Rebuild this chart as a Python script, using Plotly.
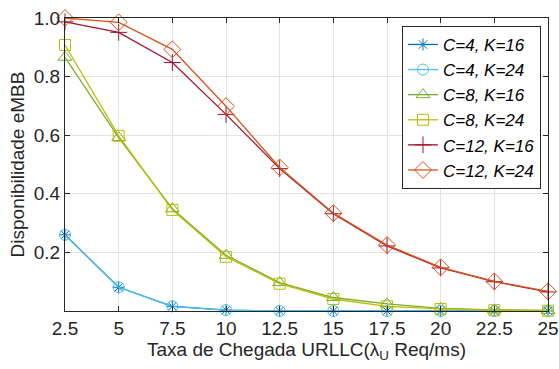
import plotly.graph_objects as go

x_vals = [2.5, 5, 7.5, 10, 12.5, 15, 17.5, 20, 22.5, 25]
x_ticklabels = ["2.5", "5", "7.5", "10", "12.5", "15", "17.5", "20", "22.5", "25"]
y_ticks = [0.2, 0.4, 0.6, 0.8, 1.0]
y_ticklabels = ["0.2", "0.4", "0.6", "0.8", "1.0"]

c4_k16 = [0.26, 0.081, 0.016, 0.003, 0.0, 0.0, 0.0, 0.0, 0.0, 0.0]
c4_k24 = [0.26, 0.081, 0.016, 0.003, 0.0, 0.0, 0.0, 0.0, 0.0, 0.0]
c8_k16 = [0.866, 0.592, 0.349, 0.19, 0.097, 0.046, 0.024, 0.009, 0.004, 0.002]
c8_k24 = [0.908, 0.598, 0.345, 0.185, 0.093, 0.041, 0.016, 0.007, 0.003, 0.001]
c12_k16 = [0.987, 0.951, 0.848, 0.671, 0.486, 0.332, 0.222, 0.147, 0.1, 0.065]
c12_k24 = [1.0, 0.985, 0.893, 0.699, 0.49, 0.334, 0.225, 0.149, 0.101, 0.067]

series = [
    ("C=4, K=16", c4_k16, "#0072BD", "asterisk-open", 10),
    ("C=4, K=24", c4_k24, "#4DBEEE", "circle-open", 11),
    ("C=8, K=16", c8_k16, "#77AC30", "triangle-up-open", 12),
    ("C=8, K=24", c8_k24, "#BDBD00", "square-open", 11),
    ("C=12, K=16", c12_k16, "#A2142F", "cross-thin-open", 12),
    ("C=12, K=24", c12_k24, "#D95319", "diamond-open", 13),
]

fig = go.Figure()
for name, ys, color, sym, size in series:
    fig.add_trace(go.Scatter(
        x=x_vals, y=ys, name=name, mode="lines+markers",
        line=dict(color=color, width=1.3),
        marker=dict(symbol=sym, size=size, color=color, line=dict(color=color, width=1)),
        cliponaxis=False,
    ))

font_family = "Liberation Sans, Arial, sans-serif"
fig.update_layout(
    width=559, height=369,
    margin=dict(l=65, r=11, t=18, b=58, autoexpand=False),
    paper_bgcolor="white", plot_bgcolor="white",
    font=dict(family=font_family, size=19, color="#262626"),
    showlegend=True,
    legend=dict(
        x=0.9855, y=0.973, xanchor="right", yanchor="top",
        bgcolor="white", bordercolor="#262626", borderwidth=1,
        font=dict(size=17, family=font_family, style="italic", color="#000000"),
        tracegroupgap=0, itemwidth=30,
    ),
    xaxis=dict(
        range=[2.5, 25], tickvals=x_vals, ticktext=x_ticklabels,
        showgrid=True, gridcolor="#e3e3e3", gridwidth=1,
        showline=True, linecolor="#262626", linewidth=1, mirror="ticks",
        ticks="inside", ticklen=5, tickcolor="#262626",
        zeroline=False,
        title=dict(text="Taxa de Chegada URLLC(λ<sub>U</sub> Req/ms)", font=dict(size=19), standoff=3),
        tickfont=dict(size=19),
    ),
    yaxis=dict(
        range=[0, 1], tickvals=y_ticks, ticktext=y_ticklabels,
        showgrid=True, gridcolor="#e3e3e3", gridwidth=1,
        showline=True, linecolor="#262626", linewidth=1, mirror="ticks",
        ticks="inside", ticklen=5, tickcolor="#262626",
        zeroline=False,
        title=dict(text="Disponibilidade eMBB", font=dict(size=19), standoff=4),
        tickfont=dict(size=19),
    ),
)

fig.write_html("out.html")
